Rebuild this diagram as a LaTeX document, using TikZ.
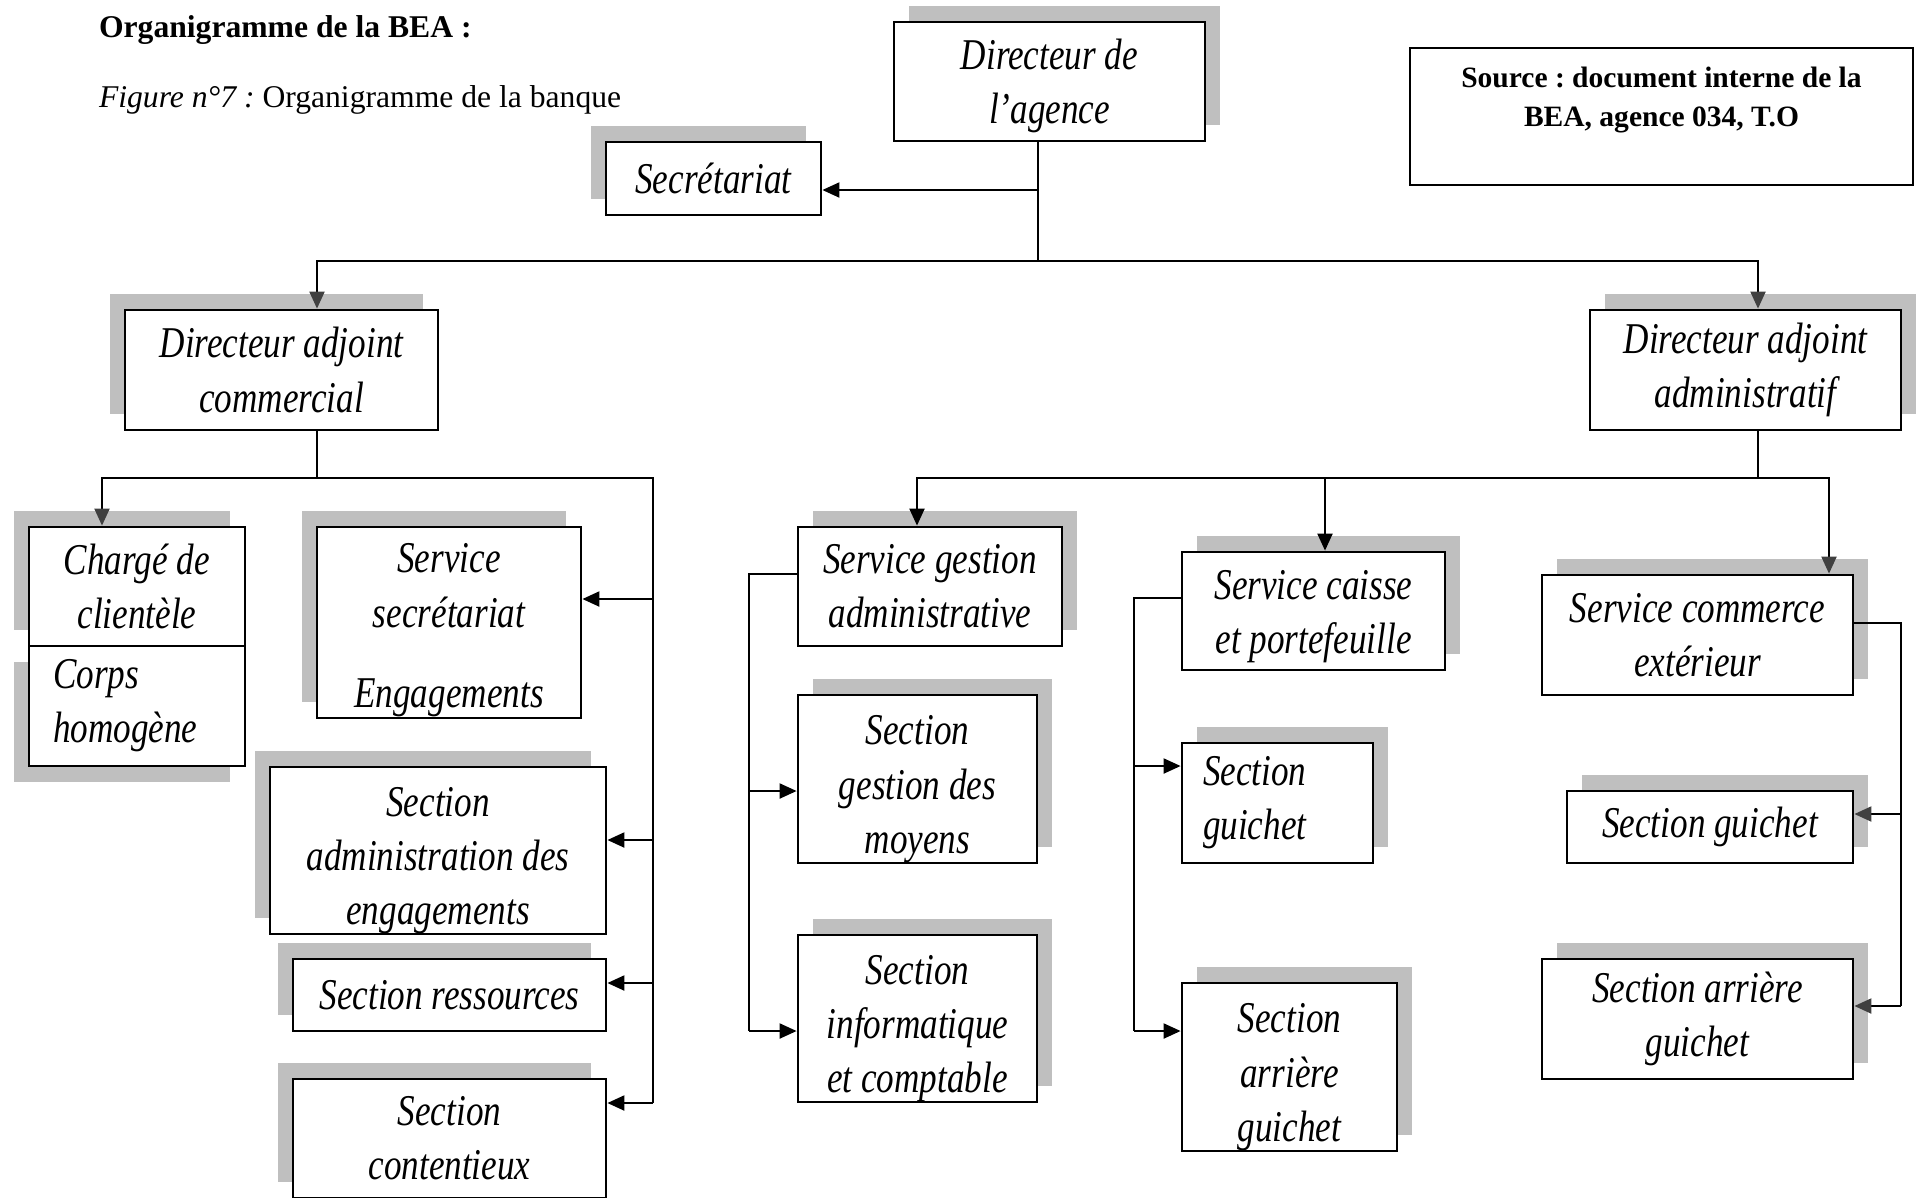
\documentclass[tikz,border=0pt]{standalone}
\usepackage{fontspec}
\setmainfont{Liberation Serif}
\newfontfamily\boxfont{Liberation Serif}[FakeStretch=0.8]
\usetikzlibrary{arrows.meta}
\usetikzlibrary{shadows}
\definecolor{shadowgray}{RGB}{191,191,191}
\definecolor{tipgray}{RGB}{64,64,64}
\newcommand{\lift}[1][0.4cm]{\rule{0pt}{#1}}
\frenchspacing

\begin{document}
\begin{tikzpicture}[>={Triangle[length=0.17cm, width=0.15cm]}, line width=0.6pt,
    orgbox/.style = {draw, fill=white, line width=0.8pt, align=center, inner sep=0pt,
        font=\boxfont\itshape\fontsize{12.5}{15.4}\selectfont},
    boxsize/.style 2 args = {minimum width=#1cm, minimum height=#2cm},
    shadowul/.style = {general shadow={shadow xshift=-0.15cm, shadow yshift=0.16cm, fill=shadowgray}},
    shadowur/.style = {general shadow={shadow xshift=0.15cm, shadow yshift=0.16cm, fill=shadowgray}},
    shadowdl/.style = {general shadow={shadow xshift=-0.15cm, shadow yshift=-0.16cm, fill=shadowgray}},
    gtip/.style = {-{Triangle[length=0.17cm, width=0.15cm, color=tipgray]}}]
    \useasboundingbox (0,0) rectangle (19.22,-11.97);

    % Titles
    \node[anchor=base west, inner sep=0pt, font=\bfseries\fontsize{9}{11}\selectfont] (title) at (0.98,-0.375) {Organigramme de la BEA :};
    \node[anchor=base west, inner sep=0pt, font=\fontsize{9}{11}\selectfont] (figcap) at (0.98,-1.075) {\textit{Figure n°7 :} Organigramme de la banque};

    \node[draw, line width=0.8pt, minimum width=5.03cm, minimum height=1.37cm] (source) at (16.615,-1.165) {};
    \node[anchor=north, align=center, font=\bfseries\fontsize{8.4}{11}\selectfont] (sourcetext) at ([yshift=-0.08cm]source.north) {Source : document interne de la\\ BEA, agence 034, T.O};

    % Direction
    \node[orgbox, shadowur, boxsize={3.11}{1.19}] (dir) at (10.495,-0.815) {\lift Directeur de\\ l’agence};
    \node[orgbox, shadowul, boxsize={2.15}{0.73}] (secr) at (7.135,-1.785) {Secrétariat};
    \node[orgbox, shadowul, boxsize={3.13}{1.20}] (dac) at (2.815,-3.70) {Directeur adjoint\\ commercial};
    \node[orgbox, shadowur, boxsize={3.11}{1.20}] (daa) at (17.455,-3.70) {Directeur adjoint\\ administratif};

    % Commercial side
    \node[orgbox, shadowul, boxsize={2.16}{1.19}] (charge) at (1.37,-5.865) {Chargé de\\ clientèle};
    \node[orgbox, shadowdl, boxsize={2.16}{1.20}, align=left, text width=1.68cm] (corps) at (1.37,-7.06) {Corps\\ homogène};
    \node[orgbox, shadowul, boxsize={2.64}{1.91}] (servsec) at (4.49,-6.225) {\lift[0.35cm]Service\\ secrétariat\\[0.26cm] \smash{Engagements}};
    \node[orgbox, shadowul, boxsize={3.36}{1.67}] (adminengag) at (4.38,-8.505) {\lift Section\\ administration des\\ \smash{engagements}};
    \node[orgbox, shadowul, boxsize={3.13}{0.72}] (ress) at (4.495,-9.95) {Section ressources};
    \node[orgbox, shadowul, boxsize={3.13}{1.19}] (cont) at (4.495,-11.385) {Section\\ contentieux};

    % Administrative side
    \node[orgbox, shadowur, boxsize={2.64}{1.19}] (sga) at (9.30,-5.865) {Service gestion\\ administrative};
    \node[orgbox, shadowur, boxsize={2.39}{1.68}] (sgm) at (9.175,-7.79) {\lift Section\\ gestion des\\ \smash{moyens}};
    \node[orgbox, shadowur, boxsize={2.39}{1.67}] (sic) at (9.175,-10.185) {\lift Section\\ informatique\\ \smash{et comptable}};

    \node[orgbox, shadowur, boxsize={2.63}{1.18}] (caisse) at (13.135,-6.11) {\lift Service caisse\\ et portefeuille};
    \node[orgbox, shadowur, boxsize={1.91}{1.20}, align=left, text width=1.49cm] (guichet1) at (12.775,-8.03) {Section\\ guichet};
    \node[orgbox, shadowur, boxsize={2.15}{1.68}] (arriere1) at (12.895,-10.67) {\lift Section\\ arrière\\ \smash{guichet}};

    \node[orgbox, shadowur, boxsize={3.11}{1.20}] (sce) at (16.975,-6.35) {Service commerce\\ extérieur};
    \node[orgbox, shadowur, boxsize={2.86}{0.72}] (guichet2) at (17.10,-8.27) {Section guichet};
    \node[orgbox, shadowur, boxsize={3.11}{1.20}] (arriere2) at (16.975,-10.19) {Section arrière\\ guichet};

    % Junctions
    \coordinate (top) at (10.38,-1.90);
    \coordinate (bus) at (10.38,-2.61);
    \coordinate (busl) at (3.17,-2.61);
    \coordinate (busr) at (17.58,-2.61);

    \coordinate (cm) at (3.17,-4.78);
    \coordinate (cml) at (1.02,-4.78);
    \coordinate (cmr) at (6.53,-4.78);

    \coordinate (ad) at (17.58,-4.78);
    \coordinate (adl) at (9.17,-4.78);
    \coordinate (adm) at (13.25,-4.78);
    \coordinate (adr) at (18.29,-4.78);

    \coordinate (sgal) at (7.49,-5.74);
    \coordinate (cal) at (11.34,-5.98);
    \coordinate (scr) at (19.01,-6.23);

    % Edges
    \draw (dir.south -| top) -- (bus);
    \draw[->] (top) -- (secr.east |- top);
    \draw[gtip] (bus) -- (busl) -- (busl |- dac.north);
    \draw[gtip] (bus) -- (busr) -- (busr |- daa.north);

    \draw (busl |- dac.south) -- (cm);
    \draw[gtip] (cm) -- (cml) -- (cml |- charge.north);
    \draw (cm) -- (cmr) -- (6.53,-11.03);
    \foreach \n/\y in {servsec/-5.99, adminengag/-8.40, ress/-9.83, cont/-11.03}
        \draw[->] (6.53,\y) -- (\n.east |- 0,\y);

    \draw (busr |- daa.south) -- (ad);
    \draw[->] (ad) -- (adl) -- (adl |- sga.north);
    \draw[->] (adm) -- (adm |- caisse.north);
    \draw[gtip] (ad) -- (adr) -- (adr |- sce.north);

    \draw (sga.west |- sgal) -- (sgal) -- (7.49,-10.31);
    \foreach \n/\y in {sgm/-7.91, sic/-10.31}
        \draw[->] (7.49,\y) -- (\n.west |- 0,\y);

    \draw (caisse.west |- cal) -- (cal) -- (11.34,-10.31);
    \foreach \n/\y in {guichet1/-7.66, arriere1/-10.31}
        \draw[->] (11.34,\y) -- (\n.west |- 0,\y);

    \draw (sce.east |- scr) -- (scr) -- (19.01,-10.06);
    \foreach \n/\y in {guichet2/-8.14, arriere2/-10.06}
        \draw[gtip] (19.01,\y) -- (\n.east |- 0,\y);

\end{tikzpicture}
\end{document}
